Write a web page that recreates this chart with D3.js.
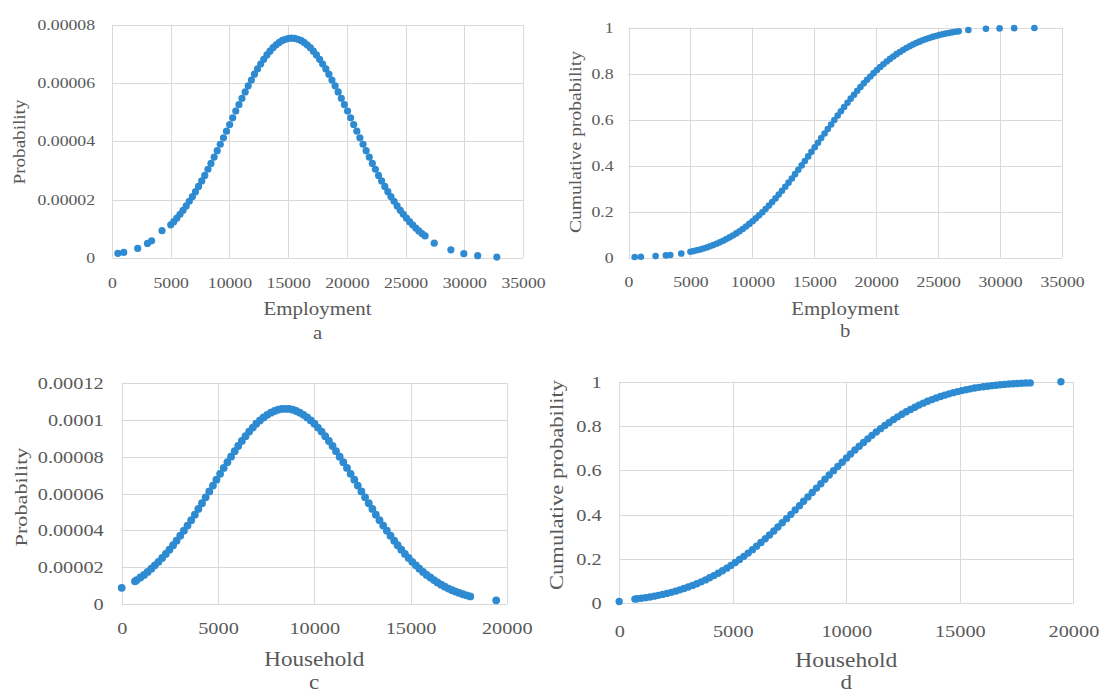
<!DOCTYPE html>
<html lang="en">
<head>
<meta charset="utf-8">
<title>Employment and household distributions</title>
<script src="https://cdnjs.cloudflare.com/ajax/libs/d3/7.8.5/d3.min.js"></script>
<style>
  body { margin: 0; background: #fff; }
  svg { display: block; }
</style>
</head>
<body>
<script>
// ---- data ----
var employment = [500, 1000, 2190, 3020, 3375, 4260,
  5000, 5260, 5520, 5790, 6050, 6320, 6580, 6850, 7110, 7370, 7640, 7900, 8170, 8430, 8700, 8960, 9220, 9490, 9750, 10020,
  10280, 10540, 10810, 11070, 11340, 11600, 11870, 12130, 12390, 12660, 12920, 13190, 13450, 13710, 13980, 14240, 14510, 14770, 15040, 15300,
  15560, 15830, 16090, 16360, 16620, 16890, 17150, 17410, 17680, 17940, 18210, 18470, 18730, 19000, 19260, 19530, 19790, 20060, 20320, 20580,
  20850, 21110, 21380, 21640, 21910, 22170, 22430, 22700, 22960, 23230, 23490, 23750, 24020, 24280, 24550, 24810, 25080, 25340, 25600, 25870,
  26130, 26400, 26660,
  27440, 28860, 29960, 31140, 32770];

var empProb = [0.15e-5, 0.18e-5, 0.32e-5, 0.49e-5, 0.58e-5, 0.93e-5,
  1.13e-5, 1.24e-5, 1.36e-5, 1.49e-5, 1.63e-5, 1.78e-5, 1.94e-5, 2.10e-5, 2.27e-5, 2.45e-5, 2.64e-5, 2.83e-5, 3.04e-5, 3.24e-5, 3.46e-5, 3.68e-5, 3.90e-5, 4.12e-5, 4.35e-5, 4.58e-5,
  4.81e-5, 5.04e-5, 5.26e-5, 5.48e-5, 5.70e-5, 5.91e-5, 6.11e-5, 6.31e-5, 6.49e-5, 6.66e-5, 6.82e-5, 6.97e-5, 7.10e-5, 7.22e-5, 7.32e-5, 7.40e-5, 7.47e-5, 7.51e-5, 7.54e-5, 7.55e-5,
  7.54e-5, 7.51e-5, 7.47e-5, 7.40e-5, 7.32e-5, 7.22e-5, 7.10e-5, 6.97e-5, 6.82e-5, 6.66e-5, 6.49e-5, 6.31e-5, 6.11e-5, 5.91e-5, 5.70e-5, 5.48e-5, 5.26e-5, 5.04e-5, 4.81e-5, 4.58e-5,
  4.35e-5, 4.12e-5, 3.90e-5, 3.68e-5, 3.46e-5, 3.24e-5, 3.04e-5, 2.83e-5, 2.64e-5, 2.45e-5, 2.27e-5, 2.10e-5, 1.94e-5, 1.78e-5, 1.63e-5, 1.49e-5, 1.36e-5, 1.24e-5, 1.13e-5, 1.02e-5,
  0.92e-5, 0.83e-5, 0.75e-5,
  0.50e-5, 0.27e-5, 0.14e-5, 0.07e-5, 0.02e-5];

var empCum = [0.003, 0.004, 0.007, 0.010, 0.012, 0.018,
  0.0256, 0.0287, 0.0322, 0.0359, 0.0401, 0.0446, 0.0495, 0.0548, 0.0606, 0.0668, 0.0735, 0.0808, 0.0885, 0.0968, 0.1056, 0.1151, 0.1251, 0.1357, 0.1469, 0.1587,
  0.1711, 0.1841, 0.1977, 0.2119, 0.2266, 0.2420, 0.2578, 0.2743, 0.2912, 0.3085, 0.3264, 0.3446, 0.3632, 0.3821, 0.4013, 0.4207, 0.4404, 0.4602, 0.4801, 0.5000,
  0.5199, 0.5398, 0.5596, 0.5793, 0.5987, 0.6179, 0.6368, 0.6554, 0.6736, 0.6915, 0.7088, 0.7257, 0.7422, 0.7580, 0.7734, 0.7881, 0.8023, 0.8159, 0.8289, 0.8413,
  0.8531, 0.8643, 0.8749, 0.8849, 0.8944, 0.9032, 0.9115, 0.9192, 0.9265, 0.9332, 0.9394, 0.9452, 0.9505, 0.9554, 0.9599, 0.9641, 0.9678, 0.9713, 0.9744, 0.9772,
  0.9798, 0.9821, 0.9842,
  0.990, 0.995, 0.997, 0.998, 0.999];

var household = [0, 690,
  780, 970, 1160, 1350, 1540, 1720, 1910, 2100, 2290, 2480, 2670, 2850, 3040, 3230, 3420, 3610, 3800, 3980, 4170, 4360,
  4550, 4740, 4920, 5110, 5300, 5490, 5680, 5870, 6050, 6240, 6430, 6620, 6810, 6990, 7180, 7370, 7560, 7750, 7940, 8120, 8310, 8500,
  8690, 8880, 9060, 9250, 9440, 9630, 9820, 10010, 10190, 10380, 10570, 10760, 10950, 11130, 11320, 11510, 11700, 11890, 12080, 12260,
  12450, 12640, 12830, 13020, 13200, 13390, 13580, 13770, 13960, 14150, 14330, 14520, 14710, 14900, 15090, 15280, 15460, 15650, 15840, 16030,
  16220, 16400, 16590, 16780, 16970, 17160, 17350, 17530, 17720, 17910, 18100,
  19450];

var houseProb = [0.88e-5, 1.23e-5,
  1.30e-5, 1.44e-5, 1.58e-5, 1.74e-5, 1.92e-5, 2.10e-5, 2.29e-5, 2.50e-5, 2.72e-5, 2.95e-5, 3.19e-5, 3.44e-5, 3.71e-5, 3.98e-5, 4.26e-5, 4.55e-5, 4.85e-5, 5.16e-5, 5.47e-5, 5.79e-5,
  6.11e-5, 6.43e-5, 6.75e-5, 7.07e-5, 7.39e-5, 7.70e-5, 8.00e-5, 8.30e-5, 8.58e-5, 8.85e-5, 9.11e-5, 9.36e-5, 9.58e-5, 9.79e-5, 9.97e-5, 10.13e-5, 10.27e-5, 10.39e-5, 10.48e-5, 10.55e-5, 10.59e-5, 10.60e-5,
  10.59e-5, 10.55e-5, 10.48e-5, 10.39e-5, 10.27e-5, 10.13e-5, 9.97e-5, 9.79e-5, 9.58e-5, 9.36e-5, 9.11e-5, 8.85e-5, 8.58e-5, 8.30e-5, 8.00e-5, 7.70e-5, 7.39e-5, 7.07e-5, 6.75e-5, 6.43e-5,
  6.11e-5, 5.79e-5, 5.47e-5, 5.16e-5, 4.85e-5, 4.55e-5, 4.26e-5, 3.98e-5, 3.71e-5, 3.44e-5, 3.19e-5, 2.95e-5, 2.72e-5, 2.50e-5, 2.29e-5, 2.10e-5, 1.92e-5, 1.74e-5, 1.58e-5, 1.44e-5,
  1.30e-5, 1.17e-5, 1.05e-5, 0.94e-5, 0.84e-5, 0.75e-5, 0.67e-5, 0.60e-5, 0.53e-5, 0.47e-5, 0.41e-5,
  0.20e-5];

var houseCum = [0.008, 0.019,
  0.0202, 0.0228, 0.0256, 0.0287, 0.0322, 0.0359, 0.0401, 0.0446, 0.0495, 0.0548, 0.0606, 0.0668, 0.0735, 0.0808, 0.0885, 0.0968, 0.1056, 0.1151, 0.1251, 0.1357,
  0.1469, 0.1587, 0.1711, 0.1841, 0.1977, 0.2119, 0.2266, 0.2420, 0.2578, 0.2743, 0.2912, 0.3085, 0.3264, 0.3446, 0.3632, 0.3821, 0.4013, 0.4207, 0.4404, 0.4602, 0.4801, 0.5000,
  0.5199, 0.5398, 0.5596, 0.5793, 0.5987, 0.6179, 0.6368, 0.6554, 0.6736, 0.6915, 0.7088, 0.7257, 0.7422, 0.7580, 0.7734, 0.7881, 0.8023, 0.8159, 0.8289, 0.8413,
  0.8531, 0.8643, 0.8749, 0.8849, 0.8944, 0.9032, 0.9115, 0.9192, 0.9265, 0.9332, 0.9394, 0.9452, 0.9505, 0.9554, 0.9599, 0.9641, 0.9678, 0.9713, 0.9744, 0.9772,
  0.9798, 0.9821, 0.9842, 0.9861, 0.9878, 0.9893, 0.9906, 0.9918, 0.9929, 0.9938, 0.9946,
  0.9995];

// ---- ticks ----
var empTicks = [0, 5000, 10000, 15000, 20000, 25000, 30000, 35000];
var houseTicks = [0, 5000, 10000, 15000, 20000];
var probTicksA = [0, 0.00002, 0.00004, 0.00006, 0.00008];
var probLabelsA = ["0", "0.00002", "0.00004", "0.00006", "0.00008"];
var probTicksC = [0, 0.00002, 0.00004, 0.00006, 0.00008, 0.0001, 0.00012];
var probLabelsC = ["0", "0.00002", "0.00004", "0.00006", "0.00008", "0.0001", "0.00012"];
var cumTicks = [0, 0.2, 0.4, 0.6, 0.8, 1];
var cumLabels = ["0", "0.2", "0.4", "0.6", "0.8", "1"];

var FONT = "'Liberation Serif', 'Times New Roman', serif",
    TEXT = "#595959",
    GRID = "#d9d9d9",
    DOT = "#2e8bd2";

var svg = d3.select("body").append("svg")
    .attr("width", 1099).attr("height", 693);

svg.append("rect").attr("width", 1099).attr("height", 693).attr("fill", "#fff");

// widen text horizontally a bit, the scanned figure is stretched
function stretch(sel, k) {
  sel.each(function() {
    var w = this.getComputedTextLength();
    d3.select(this).attr("textLength", w * k).attr("lengthAdjust", "spacingAndGlyphs");
  });
}

function drawPanel(p) {
  var x = d3.scaleLinear().domain([p.xTicks[0], p.xTicks[p.xTicks.length - 1]]).range([p.left, p.right]);
  var y = d3.scaleLinear().domain([p.yTicks[0], p.yTicks[p.yTicks.length - 1]]).range([p.bottom, p.top]);
  var g = svg.append("g");

  // gridlines
  g.append("g").selectAll("line").data(p.xTicks).join("line")
      .attr("x1", function(d) { return Math.round(x(d)) + 0.5; })
      .attr("x2", function(d) { return Math.round(x(d)) + 0.5; })
      .attr("y1", p.top).attr("y2", p.bottom)
      .attr("stroke", GRID);
  g.append("g").selectAll("line").data(p.yTicks).join("line")
      .attr("y1", function(d) { return Math.round(y(d)) + 0.5; })
      .attr("y2", function(d) { return Math.round(y(d)) + 0.5; })
      .attr("x1", p.left).attr("x2", p.right)
      .attr("stroke", GRID);

  // axes
  var xa = g.append("g")
      .attr("transform", "translate(0," + p.bottom + ")")
      .call(d3.axisBottom(x).tickValues(p.xTicks).tickFormat(d3.format("d")).tickSize(0));
  xa.select(".domain").remove();
  xa.attr("font-family", FONT).attr("font-size", p.tickFont).style("color", TEXT);
  xa.selectAll("text").attr("y", p.xLabOff).attr("dy", "0.35em");
  stretch(xa.selectAll("text"), p.tickStretch);

  var ya = g.append("g")
      .attr("transform", "translate(" + p.left + ",0)")
      .call(d3.axisLeft(y).tickValues(p.yTicks)
        .tickFormat(function(d, i) { return p.yLabels[i]; })
        .tickSize(0).tickPadding(p.yLabPad));
  ya.select(".domain").remove();
  ya.attr("font-family", FONT).attr("font-size", p.tickFont).style("color", TEXT);
  stretch(ya.selectAll("text"), p.tickStretch);

  // points
  g.append("g").selectAll("circle").data(d3.zip(p.xs, p.ys)).join("circle")
      .attr("cx", function(d) { return x(d[0]); })
      .attr("cy", function(d) { return y(d[1]); })
      .attr("r", p.r)
      .attr("fill", DOT);

  // titles
  var cx = (p.left + p.right) / 2;
  g.append("text")
      .attr("x", cx).attr("y", p.xTitleY)
      .attr("text-anchor", "middle")
      .attr("font-family", FONT).attr("font-size", p.titleFont).attr("fill", TEXT)
      .attr("textLength", p.xTitleLen).attr("lengthAdjust", "spacingAndGlyphs")
      .text(p.xTitle);
  var lt = g.append("text")
      .attr("x", cx).attr("y", p.letterY)
      .attr("text-anchor", "middle")
      .attr("font-family", FONT).attr("font-size", p.titleFont).attr("fill", TEXT)
      .text(p.letter);
  stretch(lt, 1.15);
  g.append("text")
      .attr("transform", "translate(" + p.yTitleX + "," + p.yTitleY + ") rotate(-90)")
      .attr("text-anchor", "middle")
      .attr("dominant-baseline", "central")
      .attr("font-family", FONT).attr("font-size", p.yTitleFont).attr("fill", TEXT)
      .attr("textLength", p.yTitleLen).attr("lengthAdjust", "spacingAndGlyphs")
      .text(p.yTitle);
}

drawPanel({
  xs: employment, ys: empProb, xTicks: empTicks, yTicks: probTicksA, yLabels: probLabelsA,
  left: 112, right: 523, top: 25, bottom: 257.7, r: 3.6,
  tickFont: 14.5, tickStretch: 1.22, yLabPad: 17, xLabOff: 25,
  xTitle: "Employment", xTitleY: 315, xTitleLen: 108, titleFont: 18,
  letter: "a", letterY: 339,
  yTitle: "Probability", yTitleX: 19, yTitleY: 142, yTitleLen: 85, yTitleFont: 16
});

drawPanel({
  xs: employment, ys: empCum, xTicks: empTicks, yTicks: cumTicks, yLabels: cumLabels,
  left: 628.5, right: 1062, top: 27.7, bottom: 257.7, r: 3.3,
  tickFont: 14.5, tickStretch: 1.22, yLabPad: 15, xLabOff: 24,
  xTitle: "Employment", xTitleY: 315, xTitleLen: 108, titleFont: 18,
  letter: "b", letterY: 337,
  yTitle: "Cumulative probability", yTitleX: 575, yTitleY: 142, yTitleLen: 182, yTitleFont: 16
});

drawPanel({
  xs: household, ys: houseProb, xTicks: houseTicks, yTicks: probTicksC, yLabels: probLabelsC,
  left: 121.7, right: 506.8, top: 383, bottom: 604, r: 3.9,
  tickFont: 17.5, tickStretch: 1.16, yLabPad: 18, xLabOff: 24,
  xTitle: "Household", xTitleY: 666, xTitleLen: 100, titleFont: 20,
  letter: "c", letterY: 689,
  yTitle: "Probability", yTitleX: 21, yTitleY: 497, yTitleLen: 99, yTitleFont: 17
});

drawPanel({
  xs: household, ys: houseCum, xTicks: houseTicks, yTicks: cumTicks, yLabels: cumLabels,
  left: 619.2, right: 1073.4, top: 381.7, bottom: 603.3, r: 3.7,
  tickFont: 17.5, tickStretch: 1.16, yLabPad: 17.6, xLabOff: 27.5,
  xTitle: "Household", xTitleY: 667, xTitleLen: 102, titleFont: 20,
  letter: "d", letterY: 689,
  yTitle: "Cumulative probability", yTitleX: 557, yTitleY: 485, yTitleLen: 210, yTitleFont: 18
});
</script>
</body>
</html>
